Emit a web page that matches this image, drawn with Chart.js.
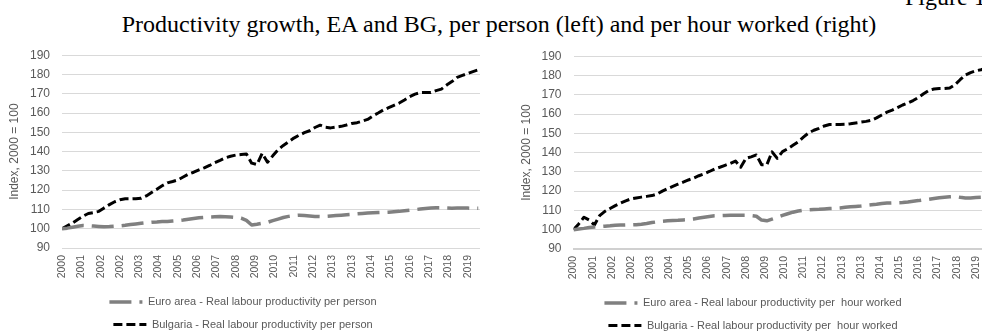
<!DOCTYPE html>
<html>
<head>
<meta charset="utf-8">
<script src="https://cdn.jsdelivr.net/npm/chart.js@4.4.1/dist/chart.umd.min.js"></script>
<style>
    html, body { margin: 0; padding: 0; background: #fff; }
    body { width: 982px; height: 332px; overflow: hidden; position: relative; }
    .title { position: absolute; left: 0; top: 10px; width: 998px; text-align: center; font-family: 'Liberation Serif', 'Times New Roman', serif; font-size: 24px; line-height: 28px; color: #000; white-space: nowrap; }
    .figure { position: absolute; left: 905px; top: -17px; font-family: 'Liberation Serif', 'Times New Roman', serif; font-size: 24px; line-height: 28px; color: #000; white-space: nowrap; }
    .box { position: absolute; }
    #left-box { left: 0; top: 36px; width: 490px; height: 304px; }
    #right-box { left: 515px; top: 37px; width: 483px; height: 304px; }
</style>
</head>
<body>
<div class="figure">Figure 1</div>
<div class="title">Productivity growth, EA and BG, per person (left) and per hour worked (right)</div>
<div class="box" id="left-box"><canvas id="leftChart"></canvas></div>
<div class="box" id="right-box"><canvas id="rightChart"></canvas></div>
<script>
// x-axis labels as printed (one every 11 months, quarterly data from 2000)
const yearLabels = ['2000', '2001', '2002', '2002', '2003', '2004', '2005', '2006', '2007', '2008', '2009',
    '2010', '2011', '2012', '2013', '2013', '2014', '2015', '2016', '2017', '2018', '2019'];
const monthsPerLabel = 11;
const monthsPerQuarter = 3;

// Index, 2000 = 100, quarterly 2000Q1 - 2019Q4
const euroPerPerson = [
    100, 100.3, 100.8, 101.3, 101.7, 101.6, 101.4, 101.2, 101, 101.1,
    101.3, 101.5, 101.8, 102.2, 102.5, 102.8, 103.1, 103.4, 103.5, 103.7,
    103.8, 104, 104.2, 104.5, 104.9, 105.3, 105.7, 105.9, 106.1, 106.2,
    106.3, 106.2, 106.1, 105.9, 105.5, 104.3, 101.9, 102.3, 102.8, 103.3,
    104.2, 105, 105.8, 106.4, 106.8, 107, 106.8, 106.6, 106.4, 106.3,
    106.4, 106.6, 106.8, 107, 107.2, 107.4, 107.7, 107.9, 108.1, 108.3,
    108.4, 108.5, 108.6, 108.8, 109, 109.3, 109.6, 109.9, 110.2, 110.5,
    110.8, 110.9, 110.9, 110.7, 110.6, 110.7, 110.8, 110.7, 110.6, 110.6,
];
const bgPerPerson = [
    100, 101.5, 103, 104.8, 106.5, 107.9, 108.4, 109, 110.8, 112.5,
    114, 115, 115.5, 115.5, 115.6, 115.8, 117, 118.8, 120.5, 122.3,
    123.8, 124.5, 125.3, 126.8, 128.3, 129.3, 130.5, 131.6, 132.8, 134.3,
    135.5, 136.8, 137.6, 138.2, 138.5, 138.8, 134, 133.3, 139.1, 134.5,
    137.8, 140.9, 143.2, 145.1, 147, 148.5, 149.8, 150.8, 152.5, 153.7,
    152.6, 152.3, 152.7, 153.1, 153.8, 154.6, 155, 155.8, 156.7, 158.5,
    160, 161.6, 162.8, 164, 165.2, 166.8, 168.5, 169.8, 170.6, 170.7,
    170.6, 171.6, 172.4, 174.5, 176.3, 178.5, 179.5, 180.5, 181.5, 182.4,
];
const euroPerHour = [
    100, 100.4, 100.7, 101.1, 101.4, 101.6, 101.8, 102, 102.3, 102.4,
    102.5, 102.5, 102.6, 102.8, 103.2, 103.7, 104.1, 104.4, 104.6, 104.8,
    104.9, 105.1, 105.3, 105.6, 106.1, 106.5, 106.9, 107.2, 107.3, 107.4,
    107.5, 107.5, 107.5, 107.5, 107.3, 107, 105, 104.6, 105.5, 106.4,
    107.4, 108.3, 109.1, 109.7, 110.1, 110.3, 110.5, 110.6, 110.8, 111,
    111.1, 111.3, 111.6, 111.9, 112.1, 112.3, 112.6, 112.9, 113.2, 113.6,
    113.8, 113.9, 114, 114.1, 114.4, 114.8, 115.1, 115.5, 115.8, 116.2,
    116.6, 116.9, 117.1, 117.3, 116.8, 116.5, 116.5, 116.7, 116.8, 117,
];
const bgPerHour = [
    100, 103, 106.5, 105, 102.5, 107.3, 109.5, 111, 112.5, 113.8,
    115, 116, 116.5, 116.9, 117.3, 117.7, 118.5, 120, 121.3, 122.5,
    123.6, 124.7, 125.8, 126.8, 128, 129, 130.2, 131.5, 132.4, 133.4,
    134.4, 135.6, 132.4, 137, 137.8, 138.8, 133.7, 133.7, 140.4, 137,
    140.5, 142, 143.8, 145.6, 148, 150.2, 151.6, 152.6, 153.8, 154.6,
    154.6, 154.6, 154.7, 155, 155.4, 155.8, 156.2, 156.8, 158, 159.5,
    161, 162, 163.3, 164.7, 165.7, 167, 168.6, 170.5, 172.2, 173,
    173.3, 173.3, 173.5, 175.2, 177.8, 180.2, 181.5, 182.4, 183, 183.8,
];

const euroColor = '#808080';
const bgColor = '#000000';
const textColor = '#595959';
const gridColor = '#d9d9d9';
const sansFont = "'Liberation Sans', sans-serif";

/**
 * Turns a quarterly series into {x, y} points on a month axis.
 * @param {Array<number>} values quarterly values
 */
const toPoints = (values) => values.map((v, i) => ({ x: i * monthsPerQuarter, y: v }));

/**
 * Default legend items, keeping the dash pattern of each line.
 */
const dashedLegendLabels = (chart) => {
    const items = Chart.defaults.plugins.legend.labels.generateLabels(chart);
    items.forEach((item) => {
        const dataset = chart.data.datasets[item.datasetIndex];
        item.lineDash = dataset.borderDash;
        item.lineWidth = dataset.borderWidth;
    });
    return items;
};

/**
 * Builds one of the two panels.
 */
const createChart = (canvasId, euroData, bgData, euroLabel, bgLabel, opts) => {
    const chartData = {
        datasets: [
            {
                label: euroLabel,
                data: toPoints(euroData),
                borderColor: euroColor,
                backgroundColor: euroColor,
                borderWidth: 3.5,
                borderDash: [22, 8],
                borderJoinStyle: 'round',
                pointRadius: 0,
                tension: 0,
            },
            {
                label: bgLabel,
                data: toPoints(bgData),
                borderColor: bgColor,
                backgroundColor: bgColor,
                borderWidth: 3,
                borderDash: [9, 4],
                borderJoinStyle: 'round',
                pointRadius: 0,
                tension: 0,
            },
        ],
    };

    const config = {
        type: 'line',
        data: chartData,
        options: {
            responsive: true,
            maintainAspectRatio: false,
            animation: false,
            layout: { padding: opts.padding },
            scales: {
                x: {
                    type: 'linear',
                    min: 0,
                    max: 238,
                    grid: { display: false, drawTicks: false },
                    border: opts.xBorder,
                    afterBuildTicks: (scale) => {
                        scale.ticks = yearLabels.map((_, i) => ({ value: i * monthsPerLabel }));
                    },
                    afterFit: (scale) => {
                        scale.height = 37;
                    },
                    ticks: {
                        autoSkip: false,
                        minRotation: 90,
                        maxRotation: 90,
                        padding: 7,
                        color: textColor,
                        font: { family: sansFont, size: 10.5 },
                        callback: (value, index) => yearLabels[index],
                    },
                },
                y: {
                    min: 90,
                    max: 190,
                    grid: { color: gridColor, lineWidth: 1, drawTicks: false },
                    border: { display: false },
                    afterFit: (scale) => {
                        scale.width = opts.yAxisWidth;
                    },
                    ticks: {
                        stepSize: 10,
                        autoSkip: false,
                        padding: 12,
                        color: textColor,
                        font: { family: sansFont, size: 12 },
                    },
                    title: {
                        display: true,
                        text: 'Index, 2000 = 100',
                        color: textColor,
                        font: { family: sansFont, size: 12, lineHeight: 1.2 },
                        padding: { top: 1, bottom: 0 },
                    },
                },
            },
            plugins: {
                tooltip: { enabled: false },
                legend: {
                    position: 'bottom',
                    labels: {
                        usePointStyle: true,
                        pointStyle: 'line',
                        pointStyleWidth: 33,
                        padding: 11.5,
                        color: textColor,
                        font: { family: sansFont, size: 11 },
                        generateLabels: dashedLegendLabels,
                    },
                },
            },
        },
    };

    return new Chart(document.getElementById(canvasId), config);
};

createChart('leftChart', euroPerPerson, bgPerPerson,
    'Euro area - Real labour productivity per person',
    'Bulgaria - Real labour productivity per person',
    {
        padding: { left: 6, right: 10, top: 4, bottom: 0 },
        yAxisWidth: 56,
        xBorder: { display: false },
    });

createChart('rightChart', euroPerHour, bgPerHour,
    'Euro area - Real labour productivity per  hour worked',
    'Bulgaria - Real labour productivity per  hour worked',
    {
        padding: { left: 3, right: 10, top: 4, bottom: 0 },
        yAxisWidth: 55.5,
        xBorder: { display: true, color: '#d0d0d0', width: 2 },
    });
</script>
</body>
</html>
